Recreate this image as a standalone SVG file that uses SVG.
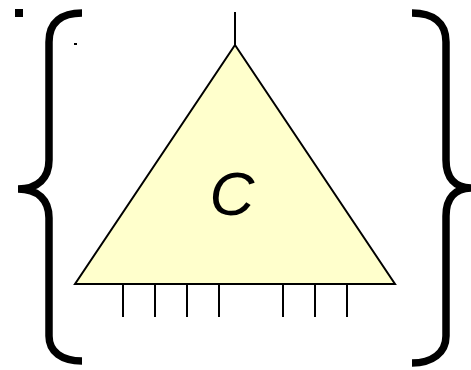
<svg xmlns="http://www.w3.org/2000/svg" width="471" height="370" viewBox="0 0 471 370">
<style>
.brace{fill:none;stroke:#000;stroke-width:7.5;stroke-linecap:butt}
.pin{stroke:#000;stroke-width:2;fill:none}
.tri{fill:#FFFFCC;stroke:#000;stroke-width:2;stroke-linejoin:miter}
.lbl{font-family:"Liberation Sans",Arial,sans-serif;font-style:italic;font-size:62px;fill:#000}
</style>
<rect x="15" y="9" width="8" height="8" fill="#000"/>
<rect x="74" y="43" width="3" height="2" fill="#000"/>
<g id="brace-left">
<path class="brace" d="M82,13 C62,13 49,22 49,42 L49,160 C49,178 38,189 18,189 C38,189 49,200 49,218 L49,336 C49,352 62,361 82,361"/>
</g>
<g id="brace-right">
<path class="brace" d="M412,13 C432,13 446,22 446,42 L446,160 C446,178 455,188 472,188 C455,188 446,198 446,216 L446,336 C446,353 432,363 412,363"/>
</g>
<g id="connectors">
<line class="pin" x1="235" y1="12" x2="235" y2="45"/>
<line class="pin" x1="123" y1="284" x2="123" y2="317"/>
<line class="pin" x1="155" y1="284" x2="155" y2="317"/>
<line class="pin" x1="187" y1="284" x2="187" y2="317"/>
<line class="pin" x1="219" y1="284" x2="219" y2="317"/>
<line class="pin" x1="283" y1="284" x2="283" y2="317"/>
<line class="pin" x1="315" y1="284" x2="315" y2="317"/>
<line class="pin" x1="347" y1="284" x2="347" y2="317"/>
</g>
<g id="node-C">
<polygon class="tri" points="235,45 395,284 75,284"/>
<text class="lbl" x="232" y="215" text-anchor="middle">C</text>
</g>
</svg>
